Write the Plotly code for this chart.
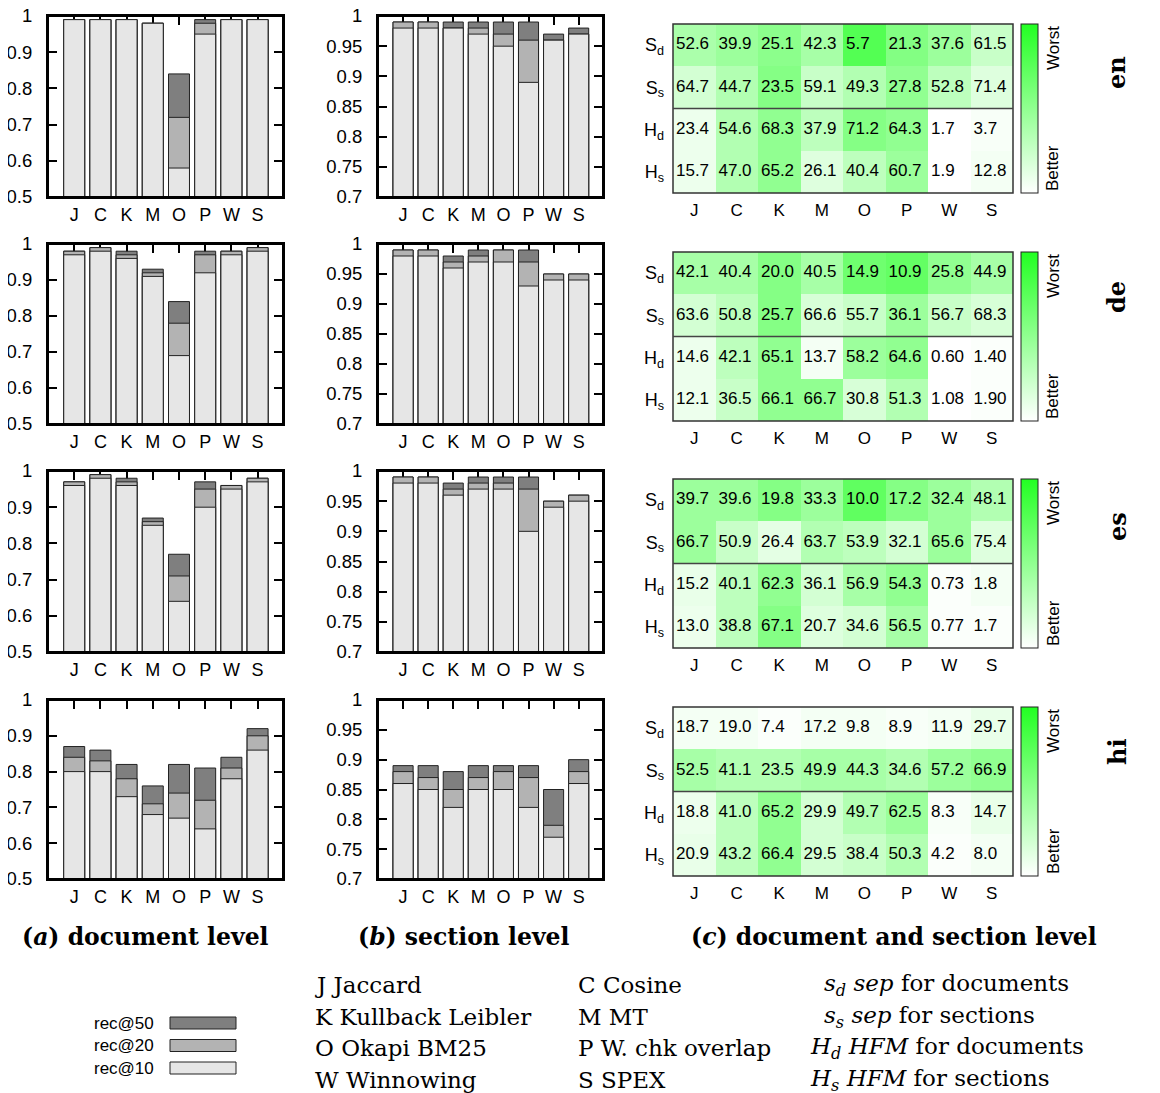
import plotly.graph_objects as go

# ---------------- data ----------------
methods = ["J", "C", "K", "M", "O", "P", "W", "S"]
langs = ["en", "de", "es", "hi"]
row_labels = ["S<sub>d</sub>", "S<sub>s</sub>", "H<sub>d</sub>", "H<sub>s</sub>"]
series_names = ["rec@50", "rec@20", "rec@10"]
series_colors = ["#7f7f7f", "#b3b3b3", "#e6e6e6"]

en_doc_rec10 = [0.99, 0.99, 0.99, 0.98, 0.58, 0.95, 0.99, 0.99]
en_doc_rec20 = [0.99, 0.99, 0.99, 0.98, 0.72, 0.98, 0.99, 0.99]
en_doc_rec50 = [0.99, 0.99, 0.99, 0.98, 0.84, 0.99, 0.99, 0.99]
en_sec_rec10 = [0.98, 0.98, 0.98, 0.97, 0.95, 0.89, 0.96, 0.97]
en_sec_rec20 = [0.99, 0.99, 0.98, 0.98, 0.97, 0.96, 0.96, 0.97]
en_sec_rec50 = [0.99, 0.99, 0.99, 0.99, 0.99, 0.99, 0.97, 0.98]

de_doc_rec10 = [0.97, 0.98, 0.96, 0.91, 0.69, 0.92, 0.97, 0.98]
de_doc_rec20 = [0.98, 0.99, 0.97, 0.92, 0.78, 0.97, 0.98, 0.99]
de_doc_rec50 = [0.98, 0.99, 0.98, 0.93, 0.84, 0.98, 0.98, 0.99]
de_sec_rec10 = [0.98, 0.98, 0.96, 0.97, 0.97, 0.93, 0.94, 0.94]
de_sec_rec20 = [0.99, 0.99, 0.97, 0.98, 0.99, 0.97, 0.95, 0.95]
de_sec_rec50 = [0.99, 0.99, 0.98, 0.99, 0.99, 0.99, 0.95, 0.95]

es_doc_rec10 = [0.96, 0.98, 0.96, 0.85, 0.64, 0.90, 0.95, 0.97]
es_doc_rec20 = [0.97, 0.99, 0.97, 0.86, 0.71, 0.95, 0.96, 0.98]
es_doc_rec50 = [0.97, 0.99, 0.98, 0.87, 0.77, 0.97, 0.96, 0.98]
es_sec_rec10 = [0.98, 0.98, 0.96, 0.97, 0.97, 0.90, 0.94, 0.95]
es_sec_rec20 = [0.99, 0.99, 0.97, 0.98, 0.98, 0.97, 0.95, 0.96]
es_sec_rec50 = [0.99, 0.99, 0.98, 0.99, 0.99, 0.99, 0.95, 0.96]

hi_doc_rec10 = [0.80, 0.80, 0.73, 0.68, 0.67, 0.64, 0.78, 0.86]
hi_doc_rec20 = [0.84, 0.83, 0.78, 0.71, 0.74, 0.72, 0.81, 0.90]
hi_doc_rec50 = [0.87, 0.86, 0.82, 0.76, 0.82, 0.81, 0.84, 0.92]
hi_sec_rec10 = [0.86, 0.85, 0.82, 0.85, 0.85, 0.82, 0.77, 0.86]
hi_sec_rec20 = [0.88, 0.87, 0.85, 0.87, 0.88, 0.87, 0.79, 0.88]
hi_sec_rec50 = [0.89, 0.89, 0.88, 0.89, 0.89, 0.89, 0.85, 0.90]

# heatmap printed values (rows: Sd, Ss, Hd, Hs)
en_values = [["52.6", "39.9", "25.1", "42.3", "5.7", "21.3", "37.6", "61.5"],
             ["64.7", "44.7", "23.5", "59.1", "49.3", "27.8", "52.8", "71.4"],
             ["23.4", "54.6", "68.3", "37.9", "71.2", "64.3", "1.7", "3.7"],
             ["15.7", "47.0", "65.2", "26.1", "40.4", "60.7", "1.9", "12.8"]]
de_values = [["42.1", "40.4", "20.0", "40.5", "14.9", "10.9", "25.8", "44.9"],
             ["63.6", "50.8", "25.7", "66.6", "55.7", "36.1", "56.7", "68.3"],
             ["14.6", "42.1", "65.1", "13.7", "58.2", "64.6", "0.60", "1.40"],
             ["12.1", "36.5", "66.1", "66.7", "30.8", "51.3", "1.08", "1.90"]]
es_values = [["39.7", "39.6", "19.8", "33.3", "10.0", "17.2", "32.4", "48.1"],
             ["66.7", "50.9", "26.4", "63.7", "53.9", "32.1", "65.6", "75.4"],
             ["15.2", "40.1", "62.3", "36.1", "56.9", "54.3", "0.73", "1.8"],
             ["13.0", "38.8", "67.1", "20.7", "34.6", "56.5", "0.77", "1.7"]]
hi_values = [["18.7", "19.0", "7.4", "17.2", "9.8", "8.9", "11.9", "29.7"],
             ["52.5", "41.1", "23.5", "49.9", "44.3", "34.6", "57.2", "66.9"],
             ["18.8", "41.0", "65.2", "29.9", "49.7", "62.5", "8.3", "14.7"],
             ["20.9", "43.2", "66.4", "29.5", "38.4", "50.3", "4.2", "8.0"]]

# heatmap shading level (0 = better / white, 1 = worst / green)
en_shade = [[0.38, 0.45, 0.52, 0.40, 0.78, 0.56, 0.45, 0.25],
            [0.20, 0.35, 0.55, 0.25, 0.35, 0.50, 0.30, 0.15],
            [0.08, 0.35, 0.50, 0.30, 0.55, 0.50, 0.00, 0.03],
            [0.08, 0.35, 0.50, 0.15, 0.30, 0.45, 0.00, 0.05]]
de_shade = [[0.40, 0.40, 0.55, 0.40, 0.65, 0.70, 0.50, 0.40],
            [0.20, 0.30, 0.55, 0.18, 0.25, 0.45, 0.25, 0.18],
            [0.08, 0.30, 0.50, 0.05, 0.45, 0.50, 0.00, 0.02],
            [0.08, 0.25, 0.50, 0.50, 0.18, 0.35, 0.00, 0.02]]
es_shade = [[0.45, 0.45, 0.55, 0.45, 0.72, 0.55, 0.45, 0.35],
            [0.45, 0.25, 0.12, 0.35, 0.30, 0.20, 0.45, 0.15],
            [0.10, 0.30, 0.50, 0.20, 0.40, 0.50, 0.02, 0.05],
            [0.08, 0.30, 0.55, 0.15, 0.20, 0.40, 0.02, 0.02]]
hi_shade = [[0.05, 0.05, 0.02, 0.05, 0.05, 0.03, 0.05, 0.10],
            [0.40, 0.35, 0.35, 0.40, 0.40, 0.35, 0.45, 0.50],
            [0.08, 0.30, 0.50, 0.20, 0.35, 0.45, 0.03, 0.10],
            [0.10, 0.30, 0.50, 0.20, 0.25, 0.35, 0.02, 0.05]]

legend_col1 = ["J Jaccard", "K Kullback Leibler", "O Okapi BM25", "W Winnowing"]
legend_col2 = ["C Cosine", "M MT", "P W. chk overlap", "S SPEX"]
legend_col3 = ["<i>s<sub>d</sub></i> <i>sep</i> for documents",
               "<i>s<sub>s</sub></i> <i>sep</i> for sections",
               "<i>H<sub>d</sub> HFM</i> for documents",
               "<i>H<sub>s</sub> HFM</i> for sections"]
captions = ["(<i>a</i>) document level", "(<i>b</i>) section level",
            "(<i>c</i>) document and section level"]

doc_data = {"en": [en_doc_rec50, en_doc_rec20, en_doc_rec10],
            "de": [de_doc_rec50, de_doc_rec20, de_doc_rec10],
            "es": [es_doc_rec50, es_doc_rec20, es_doc_rec10],
            "hi": [hi_doc_rec50, hi_doc_rec20, hi_doc_rec10]}
sec_data = {"en": [en_sec_rec50, en_sec_rec20, en_sec_rec10],
            "de": [de_sec_rec50, de_sec_rec20, de_sec_rec10],
            "es": [es_sec_rec50, es_sec_rec20, es_sec_rec10],
            "hi": [hi_sec_rec50, hi_sec_rec20, hi_sec_rec10]}
heat_values = {"en": en_values, "de": de_values, "es": es_values, "hi": hi_values}
heat_shade = {"en": en_shade, "de": de_shade, "es": es_shade, "hi": hi_shade}

# ---------------- layout geometry (page pixels) ----------------
W, H = 1160, 1093
OFF = 8  # the page body margin shifts the figure by 8px
SANS = "Liberation Sans, Arial, sans-serif"
SERIF = "DejaVu Serif, serif"
bar_rows = [(16, 197), (244, 424), (471, 652), (700, 879)]
heat_rows = [(24, 193), (252, 421), (479, 648), (707, 876)]
doc_x = (48, 283)
sec_x = (378, 603)
heat_x = (673, 1013)
cbar_left = 1021
lang_label_y = [73, 297, 527, 752]


def px(a):
    return (a - OFF) / W


def py(b):
    return 1 - (b - OFF) / H


def dx(a, b):
    return [px(a), px(b)]


def dy(top, bottom):
    return [py(bottom), py(top)]


fig = go.Figure()
layout = dict(width=W, height=H, margin=dict(l=0, r=0, t=0, b=0, autoexpand=False),
              paper_bgcolor="white", plot_bgcolor="white",
              barmode="overlay", showlegend=False,
              font=dict(family=SANS, size=18, color="black"))
shapes = []
annotations = []


def ref(n):
    return ("" if n == 1 else str(n))


for r, lang in enumerate(langs):
    # ---- bar charts ----
    for k, (data, xr, yrange, dtick) in enumerate(
            [(doc_data[lang], doc_x, [0.5, 1.0], 0.1),
             (sec_data[lang], sec_x, [0.7, 1.0], 0.05)]):
        n = 3 * r + 1 + k
        s = ref(n)
        for name, color, vals in zip(series_names, series_colors, data):
            fig.add_trace(go.Bar(x=methods, y=vals, name=name, width=0.8,
                                 marker=dict(color=color, line=dict(color="#222222", width=1)),
                                 xaxis="x" + s, yaxis="y" + s))
        layout["xaxis" + s] = dict(domain=dx(*xr), anchor="y" + s, type="category",
                                   categoryorder="array", categoryarray=methods,
                                   range=[-1.0, 7.97], ticks="inside", ticklen=9,
                                   tickwidth=1.5, tickcolor="black", mirror="ticks",
                                   showline=True, linecolor="black", linewidth=2,
                                   layer="below traces", showgrid=False, zeroline=False,
                                   tickfont=dict(size=18), ticklabelstandoff=0,
                                   ticklabeloverflow="allow")
        layout["yaxis" + s] = dict(domain=dy(*bar_rows[r]), anchor="x" + s,
                                   range=yrange, dtick=dtick, tick0=0.5,
                                   ticks="inside", ticklen=9, tickwidth=1.5,
                                   tickcolor="black", mirror="ticks", showline=True,
                                   linecolor="black", linewidth=2, layer="below traces",
                                   showgrid=False, zeroline=False,
                                   tickfont=dict(size=18.5), ticklabelstandoff=10,
                                   ticklabeloverflow="allow")
        shapes.append(dict(type="rect", xref="x" + s + " domain", yref="y" + s + " domain",
                           x0=0, x1=1, y0=0, y1=1, line=dict(color="black", width=2),
                           layer="above"))

    # ---- heatmap ----
    n = 3 * r + 3
    s = ref(n)
    top, bot = heat_rows[r]
    xs = list(range(len(methods)))
    fig.add_trace(go.Heatmap(
        z=heat_shade[lang], x=xs, y=row_labels, zmin=0, zmax=1,
        colorscale=[[0, "#ffffff"], [1, "#22ff22"]], xgap=0, ygap=0,
        xaxis="x" + s, yaxis="y" + s, hoverinfo="skip",
        colorbar=dict(x=px(cbar_left), xanchor="left", y=py((top + bot) / 2),
                      yanchor="middle", len=bot - top, lenmode="pixels",
                      thickness=17, thicknessmode="pixels", xpad=0, ypad=0,
                      outlinewidth=1, outlinecolor="#222222",
                      showticklabels=False, ticks="")))
    tx, ty, tt = [], [], []
    for i, row in enumerate(heat_values[lang]):
        for j, v in enumerate(row):
            tx.append(j - 0.43)
            ty.append(row_labels[i])
            tt.append(v)
    fig.add_trace(go.Scatter(x=tx, y=ty, text=tt, mode="text", textposition="middle right",
                             textfont=dict(size=17, color="black", family=SANS),
                             xaxis="x" + s, yaxis="y" + s, hoverinfo="skip",
                             cliponaxis=False))
    layout["xaxis" + s] = dict(domain=dx(*heat_x), anchor="y" + s, range=[-0.5, 7.5],
                               tickvals=xs, ticktext=methods, ticks="", showgrid=False,
                               zeroline=False, showline=False, tickfont=dict(size=17),
                               ticklabelstandoff=5, ticklabeloverflow="allow")
    layout["yaxis" + s] = dict(domain=dy(top, bot), anchor="x" + s, type="category",
                               categoryorder="array", categoryarray=row_labels,
                               autorange="reversed", ticks="", showgrid=False,
                               zeroline=False, showline=False, tickfont=dict(size=18),
                               ticklabelstandoff=8, ticklabeloverflow="allow")
    shapes.append(dict(type="rect", xref="x" + s + " domain", yref="y" + s + " domain",
                       x0=0, x1=1, y0=0, y1=1, line=dict(color="#333333", width=1.5),
                       layer="above"))
    shapes.append(dict(type="line", xref="x" + s + " domain", yref="y" + s,
                       x0=0, x1=1, y0=1.5, y1=1.5, line=dict(color="#444444", width=1.5),
                       layer="above"))
    annotations.append(dict(text="Worst", x=px(1053), y=py(top), xref="paper",
                            yref="paper", xanchor="center", yanchor="top", textangle=-90,
                            showarrow=False, font=dict(size=17, family=SANS)))
    annotations.append(dict(text="Better", x=px(1053), y=py(bot), xref="paper",
                            yref="paper", xanchor="center", yanchor="bottom", textangle=-90,
                            showarrow=False, font=dict(size=17, family=SANS)))
    annotations.append(dict(text="<b>" + lang + "</b>", x=px(1117), y=py(lang_label_y[r]),
                            xref="paper", yref="paper", xanchor="center", yanchor="middle",
                            textangle=-90, showarrow=False,
                            font=dict(size=24, family=SERIF)))

# ---- captions ----
for cx, cap in zip([145, 464, 894], captions):
    annotations.append(dict(text="<b>" + cap + "</b>", x=px(cx), y=py(937),
                            xref="paper", yref="paper", xanchor="center", yanchor="middle",
                            showarrow=False, font=dict(size=23.5, family=SERIF)))

# ---- bar legend ----
for i, (name, color) in enumerate(zip(series_names, series_colors)):
    yc = 1023 + 22.5 * i
    annotations.append(dict(text=name, x=px(156), y=py(yc), xref="paper", yref="paper",
                            xanchor="right", yanchor="middle", showarrow=False,
                            font=dict(size=17, family=SANS)))
    shapes.append(dict(type="rect", xref="paper", yref="paper", x0=px(170), x1=px(236),
                       y0=py(yc + 6), y1=py(yc - 6), fillcolor=color,
                       line=dict(color="#222222", width=1)))

# ---- method / measure legend ----
for col_x, col in [(313, legend_col1), (576, legend_col2)]:
    for i, t in enumerate(col):
        annotations.append(dict(text=t, x=px(col_x), y=py(985 + 31.7 * i),
                                xref="paper", yref="paper", xanchor="left", yanchor="middle",
                                showarrow=False, font=dict(size=23, family=SERIF)))
for i, t in enumerate(legend_col3):
    x0 = 822 if i < 2 else 808
    annotations.append(dict(text=t, x=px(x0), y=py(985 + 31.7 * i),
                            xref="paper", yref="paper", xanchor="left", yanchor="middle",
                            showarrow=False, font=dict(size=23, family=SERIF)))

layout["shapes"] = shapes
layout["annotations"] = annotations
fig.update_layout(**layout)
fig.write_html("out.html")
